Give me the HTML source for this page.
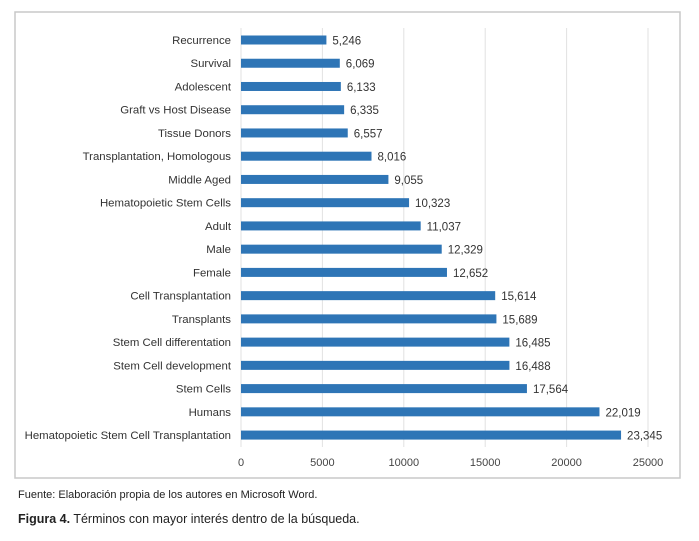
<!DOCTYPE html>
<html><head><meta charset="utf-8"><style>
body{margin:0;background:#fff;width:699px;height:536px;overflow:hidden;font-family:"Liberation Sans",sans-serif}
svg text{font-family:"Liberation Sans",sans-serif}
</style></head><body>
<svg width="699" height="536">
<rect x="15" y="12" width="665" height="466" fill="#fff" stroke="#c8c8c8" stroke-width="1.5"/>
<g id="grid"></g><g id="bars"></g><g id="labels"></g>
<text x="18" y="498" font-size="11" fill="#222">Fuente: Elaboración propia de los autores en Microsoft Word.</text>
<text x="18" y="523" font-size="12.5" fill="#222"><tspan font-weight="bold">Figura 4.</tspan> Términos con mayor interés dentro de la búsqueda.</text>
</svg>
<script>
const categories=["Recurrence","Survival","Adolescent","Graft vs Host Disease","Tissue Donors","Transplantation, Homologous","Middle Aged","Hematopoietic Stem Cells","Adult","Male","Female","Cell Transplantation","Transplants","Stem Cell differentation","Stem Cell development","Stem Cells","Humans","Hematopoietic Stem Cell Transplantation"];
const values=[5246,6069,6133,6335,6557,8016,9055,10323,11037,12329,12652,15614,15689,16485,16488,17564,22019,23345];
const ticks=[0,5000,10000,15000,20000,25000];
const NS="http://www.w3.org/2000/svg";
const x=v=>241+v*(407/25000);
const y=i=>40+i*23.24;
function mk(t,a,p){const e=document.createElementNS(NS,t);for(const k in a)e.setAttribute(k,a[k]);document.getElementById(p).appendChild(e);return e;}
ticks.forEach(t=>{
  const g=mk('line',{x1:x(t),x2:x(t),y1:28,y2:447,stroke:'#e2e2e2','stroke-width':1},'grid');
  
  
  const l=mk('text',{x:x(t),y:466,'text-anchor':'middle','font-size':11,fill:'#444'},'labels');
  l.textContent=t;
  
  
});
categories.forEach((c,i)=>{
  const b=mk('rect',{x:x(0),y:y(i)-4.5,width:x(values[i])-x(0),height:9,fill:'#2e75b6'},'bars');
  
  
  const l=mk('text',{x:231,y:y(i)+4,'text-anchor':'end','font-size':11.4,fill:'#333'},'labels');
  l.textContent=c;
  
  
  const v=mk('text',{x:x(values[i])+6,y:y(i)+4.5,'font-size':11.5,fill:'#333'},'labels');
  v.textContent=values[i].toLocaleString('en-US');
  
  
});
</script>
</body></html>
